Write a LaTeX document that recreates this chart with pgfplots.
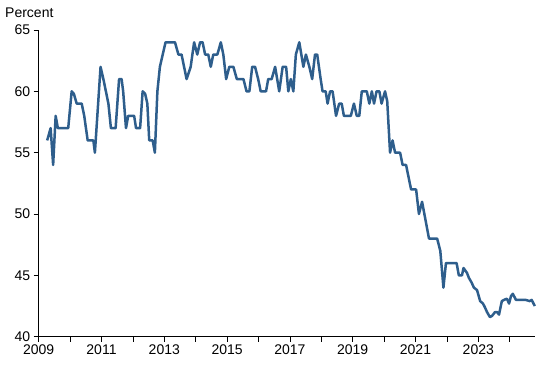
\documentclass[border=0pt]{standalone}
\usepackage{pgfplots}
\pgfplotsset{compat=1.18}
\usepackage{fontspec}
\setmainfont{Liberation Sans}
\definecolor{lineblue}{RGB}{46,94,140}
\begin{document}
\begin{tikzpicture}[x=1bp,y=1bp]
\useasboundingbox (-38.7bp,-28.3bp) rectangle (512.3bp,336.7bp);
\begin{axis}[
  at={(0,0)}, anchor=south west,
  scale only axis,
  width=496.1bp, height=306.7bp,
  xmin=2009, xmax=2024.8,
  ymin=40, ymax=65,
  axis x line*=bottom, axis y line*=left,
  axis line style={black, line width=0.8pt, -},
  xtick={2009,2011,...,2023},
  minor xtick={2010,2012,...,2024},
  ytick={40,45,...,65},
  xticklabel style={/pgf/number format/1000 sep={}},
  /pgf/number format/assume math mode=true,
  /pgf/number format/1000 sep={},
  ticklabel style={font=\fontsize{14bp}{16bp}\selectfont, text=black},
  tick align=outside,
  major tick length=5bp,
  minor tick length=5bp,
  every tick/.style={black, line width=0.6pt},
  every minor tick/.style={black, line width=0.6pt},
  clip=false,
]
\addplot[lineblue, line width=2.5bp, line join=round] coordinates {
(2009.27,56) (2009.38,57) (2009.46,54) (2009.54,58) (2009.61,57) (2009.94,57)
(2010.05,60) (2010.12,59.8) (2010.21,59) (2010.37,59) (2010.45,58) (2010.56,56)
(2010.74,56) (2010.79,55) (2010.97,62) (2011.06,61) (2011.22,59) (2011.30,57)
(2011.45,57) (2011.56,61) (2011.64,61) (2011.69,60) (2011.78,57) (2011.85,58)
(2012.04,58) (2012.10,57) (2012.23,57) (2012.31,60) (2012.39,59.8) (2012.46,59)
(2012.52,56) (2012.63,56) (2012.70,55) (2012.78,60) (2012.86,62) (2012.95,63)
(2013.04,64) (2013.34,64) (2013.45,63) (2013.55,63) (2013.71,61) (2013.84,62)
(2013.95,64) (2014.05,63) (2014.14,64) (2014.22,64) (2014.30,63) (2014.40,63)
(2014.48,62) (2014.56,63) (2014.69,63) (2014.80,64) (2014.88,63) (2014.97,61)
(2015.07,62) (2015.20,62) (2015.31,61) (2015.52,61) (2015.62,60) (2015.71,60)
(2015.80,62) (2015.89,62) (2015.99,61) (2016.07,60) (2016.24,60) (2016.31,61)
(2016.42,61) (2016.53,62) (2016.66,60) (2016.77,62) (2016.88,62) (2016.95,60)
(2017.03,61) (2017.11,60) (2017.19,63) (2017.30,64) (2017.43,62) (2017.51,63)
(2017.62,62) (2017.71,61) (2017.80,63) (2017.87,63) (2017.98,61) (2018.04,60)
(2018.14,60) (2018.20,59) (2018.28,60) (2018.36,60) (2018.47,58) (2018.57,59)
(2018.65,59) (2018.72,58) (2018.94,58) (2019.04,59) (2019.13,58) (2019.21,58)
(2019.29,60) (2019.45,60) (2019.53,59) (2019.61,60) (2019.68,59) (2019.76,60)
(2019.85,60) (2019.92,59) (2020.03,60) (2020.10,59.2) (2020.19,55) (2020.27,56)
(2020.35,55) (2020.51,55) (2020.59,54) (2020.70,54) (2020.86,52) (2021.02,52)
(2021.11,50) (2021.21,51) (2021.43,48) (2021.69,48) (2021.79,47) (2021.89,44)
(2021.97,46) (2022.31,46) (2022.38,45) (2022.48,45) (2022.53,45.6) (2022.64,45.2)
(2022.70,44.8) (2022.79,44.4) (2022.86,44.0) (2022.96,43.8) (2023.06,42.9) (2023.15,42.7)
(2023.21,42.4) (2023.28,42.0) (2023.37,41.6) (2023.44,41.7) (2023.53,42.0) (2023.60,42.0)
(2023.66,41.8) (2023.75,42.9) (2023.82,43.0) (2023.91,43.1) (2023.98,42.7) (2024.04,43.3)
(2024.10,43.5) (2024.20,43.0) (2024.36,43.0) (2024.51,43.0) (2024.64,42.9) (2024.70,43.0)
(2024.80,42.5)
};
\end{axis}
\node[anchor=base west, inner sep=0pt, font=\fontsize{14bp}{16bp}\selectfont] at (-33.7bp,319.4bp) {Percent};
\end{tikzpicture}
\end{document}
